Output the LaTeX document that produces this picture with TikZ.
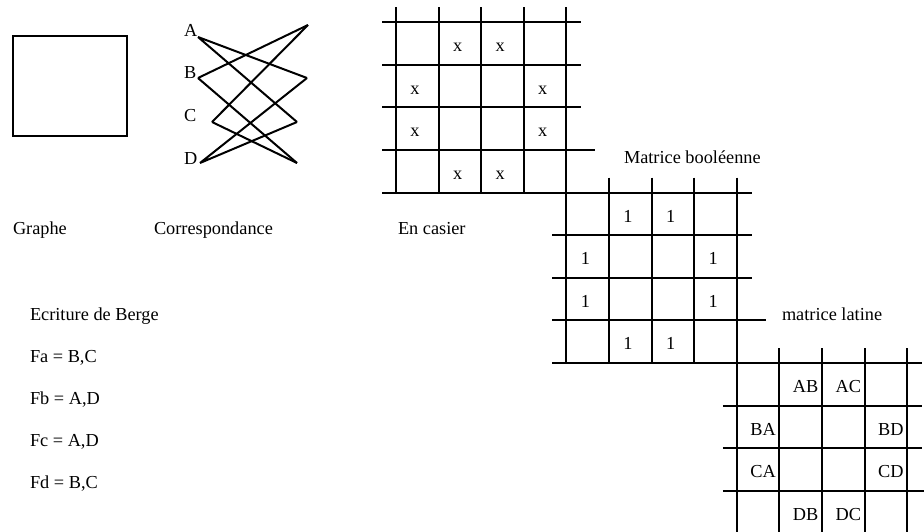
\documentclass[tikz,border=0pt]{standalone}
\usepackage{fontspec}
\setmainfont{Liberation Serif}
\begin{document}
\begin{tikzpicture}[x=1pt,y=-1pt,line width=2pt,
  txt/.style={inner sep=0pt,font=\fontsize{18.3}{22}\selectfont},
  lbl/.style={txt,anchor=base west},
  cellc/.style={txt,anchor=base},
  cellr/.style={txt,anchor=base east},
  gridline/.style={line width=2pt,line cap=butt}]
\useasboundingbox (0,0) rectangle (924,531);
\clip (0,0) rectangle (924,531);

% Graphe
\draw (13,36) rectangle (127,136);

% Correspondance
\node[lbl] (A) at (183,36.5) {A};
\node[lbl] (B) at (183,78) {B};
\node[lbl] (C) at (183,121.5) {C};
\node[lbl] (D) at (183,164) {D};
\coordinate (la) at (198,37);
\coordinate (lb) at (198,78);
\coordinate (lc) at (212,122);
\coordinate (ld) at (200,163);
\coordinate (ra) at (308,25);
\coordinate (rb) at (307,78);
\coordinate (rc) at (297,122);
\coordinate (rd) at (297,163);
\draw (la) -- (rb) (la) -- (rc);
\draw (lb) -- (ra) (lb) -- (rd);
\draw (lc) -- (ra) (lc) -- (rd);
\draw (ld) -- (rb) (ld) -- (rc);

% grids
\foreach \gx/\gy in {396/22.2, 566.4/192.6, 736.8/363}{
  \foreach \i in {0,...,4}{
    \draw[gridline] (\gx+\i*42.6,\gy-15) -- (\gx+\i*42.6,\gy+170.4);
    \ifnum\i=3
      \draw[gridline] (\gx-14,\gy+\i*42.6) -- (\gx+170.4+29,\gy+\i*42.6);
    \else
      \draw[gridline] (\gx-14,\gy+\i*42.6) -- (\gx+170.4+15,\gy+\i*42.6);
    \fi
  }
}

% En casier
\foreach \r/\c in {0/1,0/2,1/0,1/3,2/0,2/3,3/1,3/2}{
  \node[cellc] (x-\r-\c) at (396+\c*42.6+19,22.2+\r*42.6+29.5) {x};
  \node[cellc] (b-\r-\c) at (566.4+\c*42.6+19,192.6+\r*42.6+29.5) {1};
}
% matrice latine
\foreach \r/\c/\t in {0/1/AB,0/2/AC,1/0/BA,1/3/BD,2/0/CA,2/3/CD,3/1/DB,3/2/DC}{
  \node[cellr] (l-\r-\c) at (736.8+\c*42.6+40,363+\r*42.6+29.5) {\t};
}

% labels
\node[lbl] (graphe) at (12,234) {Graphe};
\node[lbl] (corr) at (153,234) {Correspondance};
\node[lbl] (casier) at (397,234) {En casier};
\node[lbl] (boole) at (623,163) {Matrice booléenne};
\node[lbl] (latine) at (781,320) {matrice latine};
\node[lbl] (berge) at (29,320) {Ecriture de Berge};
\node[lbl] (fa) at (29,362.5) {Fa = B,C};
\node[lbl] (fb) at (29,404.5) {Fb = A,D};
\node[lbl] (fc) at (29,446.5) {Fc = A,D};
\node[lbl] (fd) at (29,488) {Fd = B,C};
\end{tikzpicture}
\end{document}
